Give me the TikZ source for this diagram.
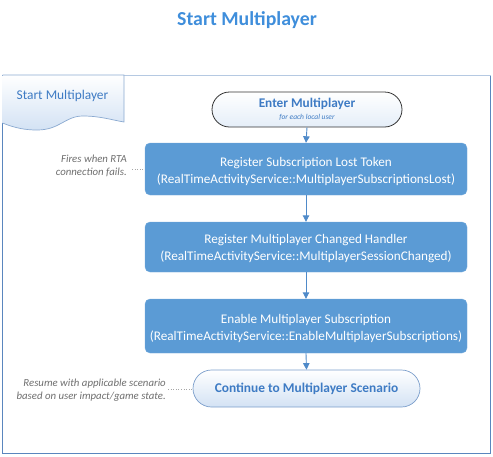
\documentclass[tikz,border=0pt]{standalone}
\usepackage{fontspec}
\setmainfont{Carlito}
\usetikzlibrary{arrows.meta,shapes.misc}
\definecolor{boxblue}{HTML}{5B9BD5}
\definecolor{titleblue}{HTML}{3F8EDB}
\definecolor{framec}{HTML}{5A86BE}
\definecolor{textblue}{HTML}{3E7BC4}
\definecolor{lightb}{HTML}{D3E2F4}
\definecolor{arrowc}{HTML}{4F8AC9}
\definecolor{notec}{HTML}{6E6E6E}
\tikzset{
  stepbox/.style={draw=boxblue!85!white, fill=boxblue, rounded corners=5pt, minimum width=322pt, inner sep=0pt},
  steptext/.style={text=white, align=center, font=\fontsize{13.2}{17}\selectfont, inner sep=0pt, yshift=-2pt},
  flowarrow/.style={draw=arrowc, line width=0.9pt, -{Triangle[length=6.5pt,width=6.5pt]}},
  note/.style={text=notec, font=\fontsize{10.8}{13}\selectfont\itshape, align=right, anchor=east, inner sep=0pt},
  dotc/.style={draw=gray!70, dotted, line width=0.6pt},
}
\begin{document}
\begin{tikzpicture}[x=1pt,y=-1pt]
\useasboundingbox (0,0) rectangle (493,456);
% title
\node[text=titleblue, font=\fontsize{19.8}{22}\selectfont\bfseries] (title) at (247,20) {Start Multiplayer};
% frame
\draw[draw=framec, line width=0.8pt] (2.5,75) rectangle (490.5,453.5);
\draw[draw=framec!45!white, line width=0.9pt] (2.5,75) -- (490.5,75);
% document shape
\shade[top color=white, bottom color=lightb] (2.5,75) -- (124,75) -- (124,122) .. controls (112,120) and (100,116) .. (83,116) .. controls (65,116) and (60,130) .. (37,130) .. controls (25,130) and (15,128) .. (2.5,123) -- cycle;
\draw[draw=framec!70!white, line width=0.7pt] (2.5,75) -- (124,75) -- (124,122) .. controls (112,120) and (100,116) .. (83,116) .. controls (65,116) and (60,130) .. (37,130) .. controls (25,130) and (15,128) .. (2.5,123);
\node[text=textblue, font=\fontsize{13.4}{15}\selectfont] (lane) at (62.5,96) {Start Multiplayer};
% enter
\node[draw=black!80, line width=0.8pt, rounded rectangle, minimum width=190pt, minimum height=35pt, inner sep=0pt, top color=white, bottom color=lightb!60!white] (enter) at (307,109.5) {};
\node[text=textblue, font=\fontsize{13.3}{15}\selectfont\bfseries] (entert) at (307,103.5) {Enter Multiplayer};
\node[text=textblue, font=\fontsize{7.5}{8}\selectfont\itshape] (enters) at (307,117) {for each local user};
% steps
\node[stepbox, minimum height=52pt] (s1) at (306,169) {};
\node[steptext] (s1t) at (s1) {Register Subscription Lost Token\\(RealTimeActivityService::MultiplayerSubscriptionsLost)};
\node[stepbox, minimum height=50pt] (s2) at (306,247) {};
\node[steptext] (s2t) at (s2) {Register Multiplayer Changed Handler\\(RealTimeActivityService::MultiplayerSessionChanged)};
\node[stepbox, minimum height=54pt] (s3) at (306,326) {};
\node[steptext] (s3t) at (s3) {Enable Multiplayer Subscription\\(RealTimeActivityService::EnableMultiplayerSubscriptions)};
% continue
\node[rounded rectangle, minimum width=227pt, minimum height=37pt, inner sep=0pt, top color=white, bottom color=lightb, draw=framec!80!white, line width=0.7pt, text=textblue, font=\fontsize{13.4}{15}\selectfont\bfseries] (cont) at (306.5,388.5) {Continue to Multiplayer Scenario};
% arrows
\draw[flowarrow] (enter.south) -- (s1.north);
\draw[flowarrow] (s1.south) -- (s2.north);
\draw[flowarrow] (s2.south) -- (s3.north);
\draw[flowarrow] (s3.south) -- (cont.north);
% notes
\node[note] (n1) at (127,166) {Fires when RTA\\connection fails.};
\coordinate (n1e) at (132,169);
\draw[dotc] (n1e) -- (s1.west |- n1e);
\node[note] (n2) at (166,390) {Resume with applicable scenario\\based on user impact/game state.};
\coordinate (n2e) at (168,389);
\draw[dotc] (n2e) -- (cont.west |- n2e);
\end{tikzpicture}
\end{document}
